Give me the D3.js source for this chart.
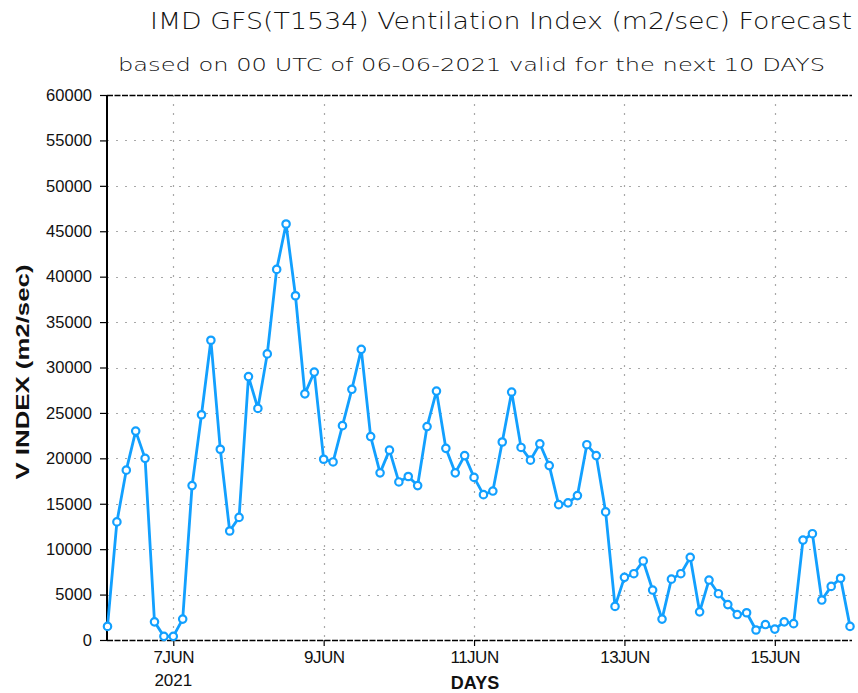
<!DOCTYPE html>
<html>
<head>
<meta charset="utf-8">
<script src="https://cdn.jsdelivr.net/npm/d3@7/dist/d3.min.js"></script>
<style>
  html, body { margin: 0; padding: 0; background: #fff; }
  svg { display: block; }
</style>
</head>
<body>
<svg id="chart" width="858" height="693"></svg>
<script>
// ---- data (3-hourly, starting 06 Jun 2021 03 UTC) ----
const startTime = "2021-06-06T03:00:00Z";
const stepHours = 3;
const vIndex = [
  1500, 13000, 18700, 23000, 20000, 2000, 400, 400, 2300, 17000,
  24800, 33000, 21000, 12000, 13500, 29000, 25500, 31500, 40800, 45800,
  37900, 27100, 29500, 19900, 19600, 23600, 27600, 32000, 22400, 18400,
  20900, 17400, 18000, 17000, 23500, 27400, 21100, 18400, 20300, 17900,
  16000, 16400, 21800, 27300, 21200, 19800, 21600, 19200, 14900, 15100,
  15900, 21500, 20300, 14100, 3700, 6900, 7300, 8700, 5500, 2300,
  6700, 7300, 9100, 3100, 6600, 5100, 3900, 2800, 3000, 1100,
  1700, 1200, 2000, 1800, 11000, 11700, 4400, 5900, 6800, 1500
];
const yTicks = [0, 5000, 10000, 15000, 20000, 25000, 30000, 35000, 40000, 45000, 50000, 55000, 60000];
const xTickDates = ["2021-06-07", "2021-06-09", "2021-06-11", "2021-06-13", "2021-06-15"];
const xTickLabels = ["7JUN", "9JUN", "11JUN", "13JUN", "15JUN"];
const yearLabel = "2021";
const titleText = "IMD GFS(T1534) Ventilation Index (m2/sec) Forecast";
const subtitleText = "based on 00 UTC of 06-06-2021 valid for the next 10 DAYS";
const yTitle = "V INDEX (m2/sec)";
const xTitle = "DAYS";

(function () {
const t0 = new Date(startTime);
const data = vIndex.map((v, i) => ({ t: new Date(t0.getTime() + i * stepHours * 3600e3), v }));

const svg = d3.select("#chart");
const pL = 107, pR = 852, pT = 95, pB = 640;
const lineColor = "#12a0ff";

const x = d3.scaleUtc()
  .domain([t0, new Date("2021-06-16T00:00:00Z")])
  .range([107.5, 850]);
const y = d3.scaleLinear().domain([0, 60000]).range([pB, pT]);
const tickDates = xTickDates.map(d => new Date(d + "T00:00:00Z"));

// gridlines
svg.append("g").selectAll("line")
  .data(yTicks.filter(d => d > 0 && d < 60000))
  .join("line")
  .attr("x1", pL).attr("x2", pR)
  .attr("y1", d => Math.round(y(d)) + 0.5).attr("y2", d => Math.round(y(d)) + 0.5)
  .attr("stroke", "#a8a8a8").attr("stroke-width", 1.2)
  .attr("stroke-dasharray", "2,7");

svg.append("g").selectAll("line")
  .data(tickDates)
  .join("line")
  .attr("x1", d => Math.round(x(d)) + 0.5).attr("x2", d => Math.round(x(d)) + 0.5)
  .attr("y1", pT).attr("y2", pB)
  .attr("stroke", "#a8a8a8").attr("stroke-width", 1.2)
  .attr("stroke-dasharray", "2,7");

// y axis
const yAxis = d3.axisLeft(y).tickValues(yTicks).tickSize(7).tickPadding(8).tickFormat(d3.format("d"));
const gy = svg.append("g").attr("transform", `translate(${pL},0)`).call(yAxis);
gy.select(".domain").remove();
gy.selectAll(".tick line").attr("stroke", "#000").attr("stroke-width", 1.2);
gy.selectAll(".tick text")
  .attr("font-family", "Liberation Sans, Arial, sans-serif")
  .attr("font-size", 16.5).attr("fill", "#111");
svg.append("line").attr("x1", pL).attr("x2", pL).attr("y1", pT).attr("y2", pB + 1)
  .attr("stroke", "#000").attr("stroke-width", 2);

// x axis
const xAxis = d3.axisBottom(x)
  .tickValues(tickDates)
  .tickSize(6).tickPadding(5)
  .tickFormat((d, i) => xTickLabels[i]);
const gx = svg.append("g").attr("transform", `translate(0,${pB})`).call(xAxis);
gx.select(".domain").remove();
gx.selectAll(".tick line").attr("stroke", "#000").attr("stroke-width", 1.2);
gx.selectAll(".tick text")
  .attr("font-family", "Liberation Sans, Arial, sans-serif")
  .attr("font-size", 17).attr("letter-spacing", -0.5).attr("fill", "#111");

// bottom and top dashed frame lines
svg.append("line").attr("x1", pL).attr("x2", pR).attr("y1", pB + 0.5).attr("y2", pB + 0.5)
  .attr("stroke", "#000").attr("stroke-width", 1.6).attr("stroke-dasharray", "6,1.5");
svg.append("line").attr("x1", pL).attr("x2", pR).attr("y1", pT + 0.5).attr("y2", pT + 0.5)
  .attr("stroke", "#000").attr("stroke-width", 1.6).attr("stroke-dasharray", "6,1.5");

// year label
svg.append("text").attr("x", x(tickDates[0])).attr("y", 686)
  .attr("text-anchor", "middle")
  .attr("font-family", "Liberation Sans, Arial, sans-serif").attr("font-size", 17).attr("fill", "#111")
  .text(yearLabel);

// line + markers
const line = d3.line().x(d => x(d.t)).y(d => y(d.v));
svg.append("path").datum(data).attr("d", line)
  .attr("fill", "none").attr("stroke", lineColor).attr("stroke-width", 2.8)
  .attr("stroke-linejoin", "round");
svg.append("g").selectAll("circle").data(data).join("circle")
  .attr("cx", d => x(d.t)).attr("cy", d => y(d.v)).attr("r", 3.7)
  .attr("fill", "#fff").attr("stroke", lineColor).attr("stroke-width", 2.2);

// titles
svg.append("text").attr("x", 150).attr("y", 29)
  .attr("font-family", "DejaVu Sans, sans-serif").attr("font-size", 23).attr("font-weight", 300)
  .attr("fill", "#111").attr("textLength", 702).attr("lengthAdjust", "spacingAndGlyphs")
  .text(titleText);
svg.append("text").attr("x", 118).attr("y", 71)
  .attr("font-family", "DejaVu Sans, sans-serif").attr("font-size", 18).attr("font-weight", 300)
  .attr("fill", "#111").attr("textLength", 707).attr("lengthAdjust", "spacingAndGlyphs")
  .text(subtitleText);

svg.append("text")
  .attr("transform", "translate(29,372) rotate(-90)")
  .attr("text-anchor", "middle")
  .attr("font-family", "Liberation Sans, Arial, sans-serif").attr("font-size", 18).attr("font-weight", "bold")
  .attr("fill", "#111").attr("textLength", 215).attr("lengthAdjust", "spacingAndGlyphs")
  .text(yTitle);

svg.append("text").attr("x", 475).attr("y", 689)
  .attr("text-anchor", "middle")
  .attr("font-family", "Liberation Sans, Arial, sans-serif").attr("font-size", 18).attr("font-weight", "bold")
  .attr("fill", "#111")
  .text(xTitle);
})();
</script>
</body>
</html>
